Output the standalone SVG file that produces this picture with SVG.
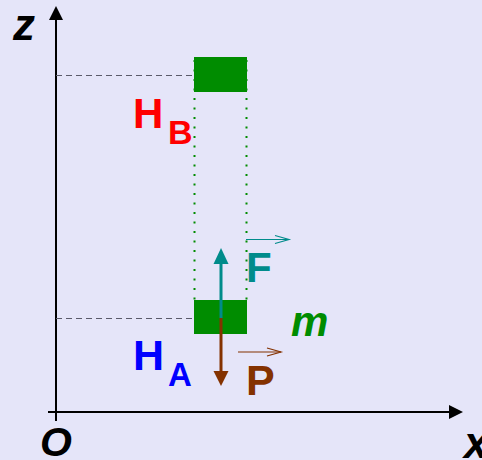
<svg xmlns="http://www.w3.org/2000/svg" width="482" height="460" viewBox="0 0 482 460">
<style>
.lbl{font-family:"Liberation Sans",Arial,sans-serif;font-weight:bold}
.it{font-style:italic}
.dash{stroke:#5a5a6a;stroke-width:1;stroke-dasharray:6,4;fill:none}
.dot{stroke:#008c00;stroke-width:2;stroke-dasharray:2,7.5;fill:none}
.box{fill:#008c00}
</style>
<rect width="482" height="460" fill="#e5e5f9"/>
<g id="axes">
<line x1="56" y1="18" x2="56" y2="421" stroke="#000" stroke-width="2"/>
<polygon points="56,6 49,20 63,20" fill="#000"/>
<line x1="48" y1="412" x2="450" y2="412" stroke="#000" stroke-width="2"/>
<polygon points="463,412 449,405 449,419" fill="#000"/>
<text class="lbl it" x="13" y="40" font-size="44">z</text>
<text class="lbl it" x="40" y="456" font-size="41">O</text>
<text class="lbl it" x="464" y="458" font-size="44">x</text>
</g>
<g id="connectors">
<line class="dash" x1="56" y1="75.5" x2="194" y2="75.5"/>
<line class="dash" x1="56" y1="318.5" x2="194" y2="318.5"/>
<line class="dot" x1="194.5" y1="60" x2="194.5" y2="300"/>
<line class="dot" x1="246.5" y1="60" x2="246.5" y2="300"/>
</g>
<g id="boxB"><rect class="box" x="194" y="57" width="53" height="35"/></g>
<g id="boxA"><rect class="box" x="194" y="300" width="53" height="34"/></g>
<g id="labelHB">
<text class="lbl" x="133" y="128" font-size="42" fill="#ff0000">H</text>
<text class="lbl" x="168" y="144" font-size="34" fill="#ff0000">B</text>
</g>
<g id="labelHA">
<text class="lbl" x="133" y="370" font-size="43" fill="#0000ff">H</text>
<text class="lbl" x="168" y="386" font-size="33" fill="#0000ff">A</text>
</g>
<g id="forceF">
<line x1="221" y1="318" x2="221" y2="261" stroke="#008b8b" stroke-width="3"/>
<polygon points="221,248 213.5,264 228.5,264" fill="#008b8b"/>
<line x1="246" y1="239.5" x2="289" y2="239.5" stroke="#008b8b" stroke-width="1.2"/>
<polyline points="275,235.5 289,239.5 275,243.5" fill="none" stroke="#008b8b" stroke-width="1.2"/>
<text class="lbl" x="246" y="282" font-size="42" fill="#008b8b">F</text>
</g>
<g id="forceP">
<line x1="221" y1="318" x2="221" y2="374" stroke="#843200" stroke-width="3"/>
<polygon points="221,386 213.5,371 228.5,371" fill="#843200"/>
<line x1="238" y1="352" x2="281" y2="352" stroke="#843200" stroke-width="1.2"/>
<polyline points="267,348 281,352 267,356" fill="none" stroke="#843200" stroke-width="1.2"/>
<text class="lbl" x="246" y="395" font-size="43" fill="#843200">P</text>
</g>
<g id="labelm">
<text class="lbl it" x="291" y="336" font-size="42" fill="#008c00">m</text>
</g>
</svg>
